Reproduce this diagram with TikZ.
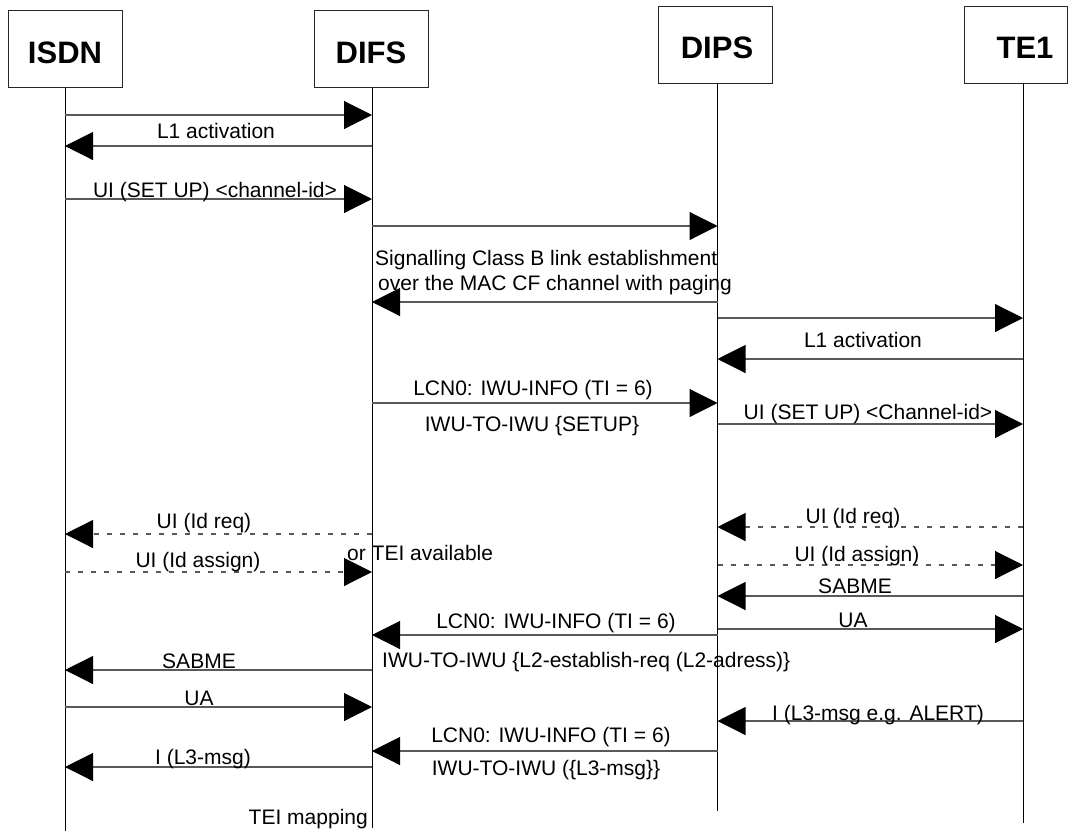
\documentclass[tikz,border=0pt]{standalone}
\usepackage{fontspec}
\setmainfont{Liberation Sans}
\usetikzlibrary{arrows.meta}
\begin{document}
\begin{tikzpicture}[x=1pt,y=-1pt,
  box/.style={draw=black!85, line width=1pt, minimum width=114pt, minimum height=77pt, inner sep=0pt},
  head/.style={font=\fontsize{31}{31}\selectfont\bfseries, anchor=base, inner sep=0pt},
  life/.style={draw=black, line width=0.9pt},
  msg/.style={draw=black!65, line width=1.1pt, -{Triangle[length=28pt,width=28pt,color=black]}},
  dmsg/.style={msg, dash pattern=on 5pt off 8pt},
  lbl/.style={font=\fontsize{21}{24}\selectfont, anchor=base, inner sep=0pt}]
\useasboundingbox (0,0) rectangle (1069,831);
% boxes
\node[box] (isdn) at (65,48.5) {};
\node[box] (difs) at (371,48.5) {};
\node[box] (dips) at (715,44.5) {};
\node[box, minimum width=103.5pt] (te1) at (1016,44.5) {};
\node[head] (isdnT) at (65,63) {ISDN};
\node[head] (difsT) at (371,63) {DIFS};
\node[head] (dipsT) at (717,58) {DIPS};
\node[head] (te1T) at (1025,58) {TE1};
% lifeline positions
\coordinate (A) at (65,0);
\coordinate (B) at (372,0);
\coordinate (C) at (717.5,0);
\coordinate (D) at (1023,0);
\coordinate (Aend) at (65,831);
\coordinate (Bend) at (372,828);
\coordinate (Cend) at (717.5,811);
\coordinate (Dend) at (1023,823);
\draw[life] (A |- isdn.south) -- (Aend);
\draw[life] (B |- difs.south) -- (Bend);
\draw[life] (C |- dips.south) -- (Cend);
\draw[life] (D |- te1.south) -- (Dend);
% messages
\draw[msg] (A |- 0,115) -- (B |- 0,115);
\draw[msg] (B |- 0,146) -- (A |- 0,146);
\node[lbl] (l2) at (216,138) {L1 activation};
\draw[msg] (A |- 0,199) -- (B |- 0,199);
\node[lbl] (l3) at (215,197) {UI (SET UP) <channel-id>};
\draw[msg] (B |- 0,226) -- (C |- 0,226);
\node[lbl, anchor=base west] (l5a) at (375,265) {Signalling Class B link establishment};
\node[lbl, anchor=base west] (l5b) at (378,290) {over the MAC CF channel with paging};
\draw[msg] (C |- 0,302) -- (B |- 0,302);
\draw[msg] (C |- 0,318) -- (D |- 0,318);
\draw[msg] (D |- 0,359) -- (C |- 0,359);
\node[lbl] (l8) at (863,347) {L1 activation};
\draw[msg] (B |- 0,403) -- (C |- 0,403);
\node[lbl] (l9a) at (533,395) {LCN0: IWU-INFO (TI = 6)};
\node[lbl] (l9b) at (532,431) {IWU-TO-IWU \{SETUP\}};
\draw[msg] (C |- 0,424) -- (D |- 0,424);
\node[lbl] (l10) at (868,419) {UI (SET UP) <Channel-id>};
\draw[dmsg] (B |- 0,534) -- (A |- 0,534);
\node[lbl] (l11) at (204,528) {UI (Id req)};
\draw[dmsg] (A |- 0,572) -- (B |- 0,572);
\node[lbl] (l12) at (198,567) {UI (Id assign)};
\node[lbl, anchor=base west] (l13) at (347,560) {or TEI available};
\draw[dmsg] (D |- 0,527) -- (C |- 0,527);
\node[lbl] (l14) at (853,523) {UI (Id req)};
\draw[dmsg] (C |- 0,565) -- (D |- 0,565);
\node[lbl] (l15) at (857,561) {UI (Id assign)};
\draw[msg] (D |- 0,596) -- (C |- 0,596);
\node[lbl] (l16) at (855,593) {SABME};
\draw[msg] (C |- 0,629) -- (D |- 0,629);
\node[lbl] (l17) at (853,627) {UA};
\draw[msg] (C |- 0,635) -- (B |- 0,635);
\node[lbl] (l18a) at (556,628) {LCN0: IWU-INFO (TI = 6)};
\node[lbl, anchor=base west] (l18b) at (382,667) {IWU-TO-IWU \{L2-establish-req (L2-adress)\}};
\draw[msg] (B |- 0,670) -- (A |- 0,670);
\node[lbl] (l19) at (199,668) {SABME};
\draw[msg] (A |- 0,707) -- (B |- 0,707);
\node[lbl] (l20) at (199,705) {UA};
\draw[msg] (D |- 0,721) -- (C |- 0,721);
\node[lbl] (l21) at (878,720) {I (L3-msg e.g. ALERT)};
\draw[msg] (C |- 0,751) -- (B |- 0,751);
\node[lbl] (l22a) at (551,742) {LCN0: IWU-INFO (TI = 6)};
\node[lbl] (l22b) at (546,775) {IWU-TO-IWU (\{L3-msg\}\}};
\draw[msg] (B |- 0,767) -- (A |- 0,767);
\node[lbl] (l23) at (203,764) {I (L3-msg)};
\node[lbl, anchor=base east] (l24) at (368,824) {TEI mapping};
\end{tikzpicture}
\end{document}
